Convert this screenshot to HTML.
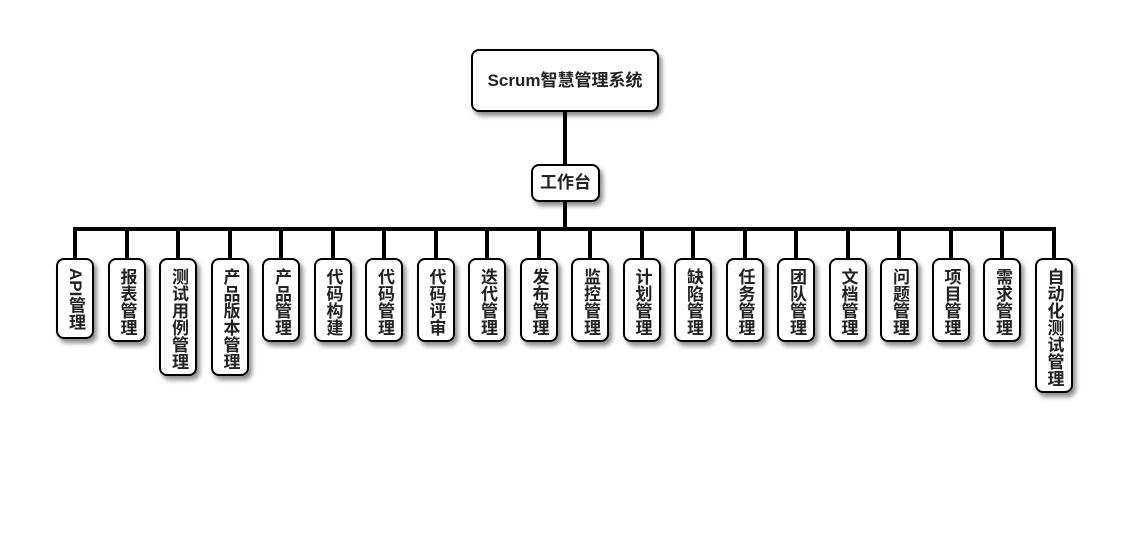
<!DOCTYPE html>
<html><head><meta charset="utf-8"><style>
body{margin:0;width:1130px;height:560px;background:#fff;position:relative;overflow:hidden;font-family:"Liberation Sans","Noto Sans CJK SC",sans-serif;}
.b{position:absolute;box-sizing:border-box;border:2px solid #000;border-radius:8px;background:#fff;box-shadow:3px 4px 5px rgba(0,0,0,.45);font-weight:bold;color:#222;}
.l{position:absolute;background:#000;}
.v{width:38px;top:258px;writing-mode:vertical-rl;text-orientation:mixed;font-size:17px;letter-spacing:0px;line-height:34px;padding-top:8px;text-align:left;}
</style></head><body>
<div class="l" style="left:563px;top:112px;width:4px;height:52px"></div>
<div class="l" style="left:563px;top:202px;width:4px;height:27px"></div>
<div class="l" style="left:73px;top:227px;width:983px;height:4px"></div>
<div class="b" style="left:471px;top:49px;width:188px;height:63px;font-size:17px;line-height:59px;text-align:center">Scrum智慧管理系统</div>
<div class="b" style="left:531px;top:164px;width:69px;height:38px;font-size:17px;line-height:34px;text-align:center">工作台</div>
<div id="c"></div>
<script>
var n=["API管理","报表管理","测试用例管理","产品版本管理","产品管理","代码构建","代码管理","代码评审","迭代管理","发布管理","监控管理","计划管理","缺陷管理","任务管理","团队管理","文档管理","问题管理","项目管理","需求管理","自动化测试管理"];
var h="";
for(var i=0;i<n.length;i++){var cx=75+i*51.5;var len=n[i].length;var hh=len*17+16;if(n[i]=="API管理")hh=81;
h+='<div class="l" style="left:'+(cx-2)+'px;top:229px;width:4px;height:29px"></div>';
h+='<div class="b v" style="left:'+(cx-19)+'px;height:'+hh+'px">'+n[i]+'</div>';}
document.getElementById("c").innerHTML=h;
</script>
</body></html>
